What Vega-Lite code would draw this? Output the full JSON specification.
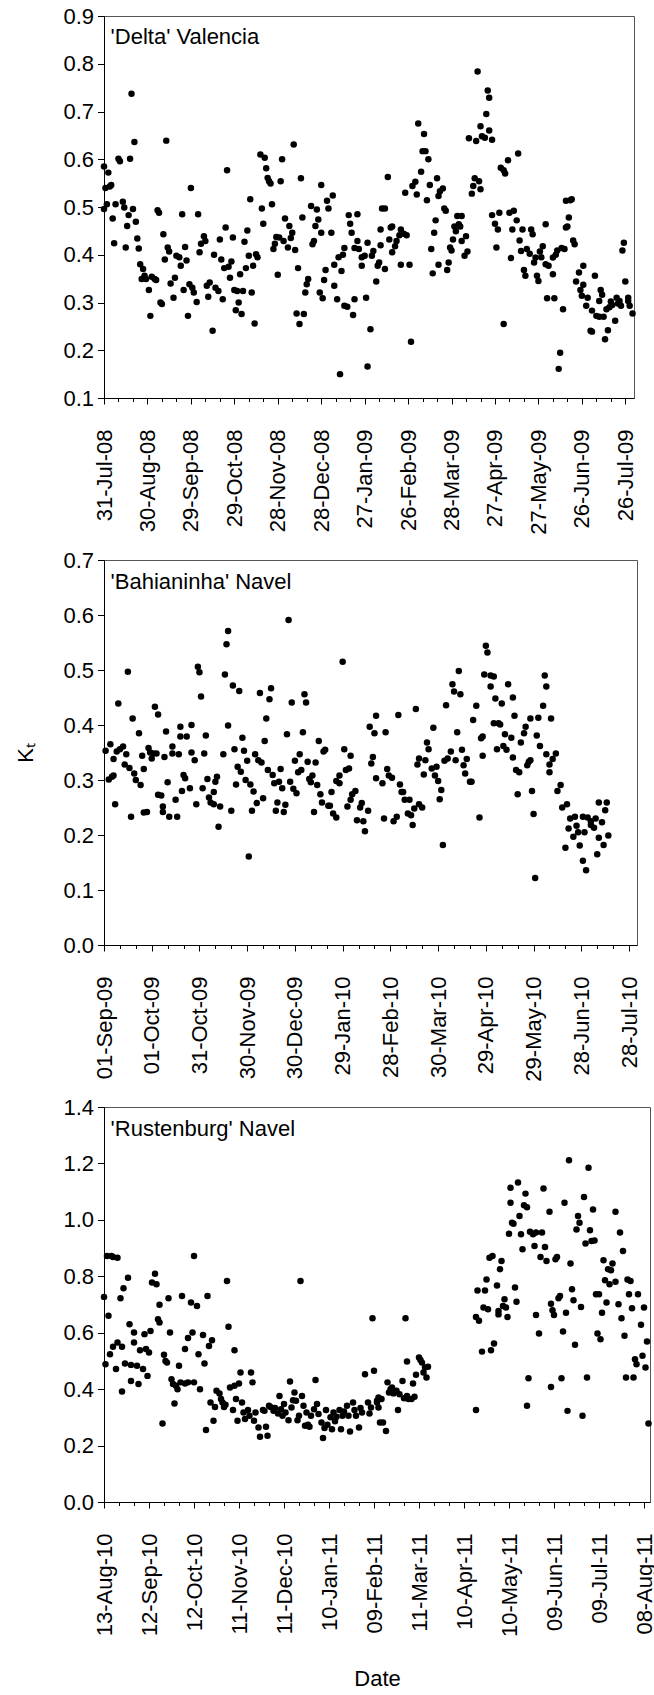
{
"$schema": "https://vega.github.io/schema/vega-lite/v6.json",
"padding": {"left": 14, "top": 4, "right": 4, "bottom": 0},
"spacing": 162,
"bounds": "flush",
"datasets": {
"delta": [
{"date":"2008-07-31","kt":0.585},{"date":"2008-07-31","kt":0.496},{"date":"2008-08-01","kt":0.54},{"date":"2008-08-02","kt":0.506},{"date":"2008-08-03","kt":0.572},{"date":"2008-08-04","kt":0.543},{"date":"2008-08-05","kt":0.546},{"date":"2008-08-06","kt":0.476},{"date":"2008-08-07","kt":0.424},{"date":"2008-08-08","kt":0.506},{"date":"2008-08-10","kt":0.601},{"date":"2008-08-11","kt":0.596},{"date":"2008-08-13","kt":0.511},{"date":"2008-08-14","kt":0.499},{"date":"2008-08-15","kt":0.415},{"date":"2008-08-16","kt":0.46},{"date":"2008-08-17","kt":0.483},{"date":"2008-08-18","kt":0.601},{"date":"2008-08-19","kt":0.737},{"date":"2008-08-20","kt":0.496},{"date":"2008-08-21","kt":0.636},{"date":"2008-08-22","kt":0.469},{"date":"2008-08-23","kt":0.434},{"date":"2008-08-24","kt":0.413},{"date":"2008-08-25","kt":0.38},{"date":"2008-08-26","kt":0.349},{"date":"2008-08-27","kt":0.37},{"date":"2008-08-28","kt":0.356},{"date":"2008-08-29","kt":0.349},{"date":"2008-08-31","kt":0.326},
{"date":"2008-09-01","kt":0.272},{"date":"2008-09-02","kt":0.354},{"date":"2008-09-04","kt":0.349},{"date":"2008-09-05","kt":0.347},{"date":"2008-09-06","kt":0.493},{"date":"2008-09-07","kt":0.488},{"date":"2008-09-08","kt":0.3},{"date":"2008-09-09","kt":0.297},{"date":"2008-09-10","kt":0.443},{"date":"2008-09-11","kt":0.39},{"date":"2008-09-12","kt":0.639},{"date":"2008-09-13","kt":0.415},{"date":"2008-09-14","kt":0.407},{"date":"2008-09-15","kt":0.34},{"date":"2008-09-17","kt":0.31},{"date":"2008-09-18","kt":0.352},{"date":"2008-09-19","kt":0.398},{"date":"2008-09-21","kt":0.395},{"date":"2008-09-22","kt":0.377},{"date":"2008-09-23","kt":0.485},{"date":"2008-09-24","kt":0.326},{"date":"2008-09-25","kt":0.416},{"date":"2008-09-26","kt":0.388},{"date":"2008-09-27","kt":0.272},{"date":"2008-09-28","kt":0.338},{"date":"2008-09-29","kt":0.54},{"date":"2008-09-30","kt":0.331},
{"date":"2008-10-01","kt":0.321},{"date":"2008-10-03","kt":0.301},{"date":"2008-10-04","kt":0.485},{"date":"2008-10-05","kt":0.405},{"date":"2008-10-06","kt":0.423},{"date":"2008-10-08","kt":0.439},{"date":"2008-10-09","kt":0.429},{"date":"2008-10-10","kt":0.335},{"date":"2008-10-11","kt":0.312},{"date":"2008-10-12","kt":0.342},{"date":"2008-10-14","kt":0.241},{"date":"2008-10-15","kt":0.4},{"date":"2008-10-16","kt":0.331},{"date":"2008-10-18","kt":0.324},{"date":"2008-10-19","kt":0.432},{"date":"2008-10-20","kt":0.39},{"date":"2008-10-21","kt":0.307},{"date":"2008-10-22","kt":0.372},{"date":"2008-10-23","kt":0.457},{"date":"2008-10-24","kt":0.577},{"date":"2008-10-25","kt":0.375},{"date":"2008-10-26","kt":0.352},{"date":"2008-10-27","kt":0.386},{"date":"2008-10-28","kt":0.436},{"date":"2008-10-29","kt":0.326},{"date":"2008-10-30","kt":0.284},{"date":"2008-10-31","kt":0.324},
{"date":"2008-11-01","kt":0.3},{"date":"2008-11-02","kt":0.359},{"date":"2008-11-03","kt":0.276},{"date":"2008-11-04","kt":0.324},{"date":"2008-11-05","kt":0.427},{"date":"2008-11-06","kt":0.372},{"date":"2008-11-07","kt":0.451},{"date":"2008-11-08","kt":0.398},{"date":"2008-11-09","kt":0.516},{"date":"2008-11-10","kt":0.321},{"date":"2008-11-11","kt":0.377},{"date":"2008-11-12","kt":0.256},{"date":"2008-11-13","kt":0.401},{"date":"2008-11-14","kt":0.395},{"date":"2008-11-16","kt":0.61},{"date":"2008-11-17","kt":0.497},{"date":"2008-11-18","kt":0.465},{"date":"2008-11-19","kt":0.603},{"date":"2008-11-20","kt":0.581},{"date":"2008-11-21","kt":0.561},{"date":"2008-11-22","kt":0.554},{"date":"2008-11-23","kt":0.549},{"date":"2008-11-24","kt":0.506},{"date":"2008-11-25","kt":0.412},{"date":"2008-11-26","kt":0.423},{"date":"2008-11-27","kt":0.437},{"date":"2008-11-28","kt":0.358},{"date":"2008-11-29","kt":0.436},{"date":"2008-11-30","kt":0.554},
{"date":"2008-12-01","kt":0.6},{"date":"2008-12-02","kt":0.429},{"date":"2008-12-03","kt":0.476},{"date":"2008-12-05","kt":0.415},{"date":"2008-12-06","kt":0.46},{"date":"2008-12-07","kt":0.435},{"date":"2008-12-08","kt":0.446},{"date":"2008-12-09","kt":0.631},{"date":"2008-12-10","kt":0.41},{"date":"2008-12-11","kt":0.277},{"date":"2008-12-12","kt":0.372},{"date":"2008-12-13","kt":0.255},{"date":"2008-12-14","kt":0.56},{"date":"2008-12-15","kt":0.478},{"date":"2008-12-16","kt":0.276},{"date":"2008-12-17","kt":0.321},{"date":"2008-12-18","kt":0.338},{"date":"2008-12-19","kt":0.349},{"date":"2008-12-21","kt":0.502},{"date":"2008-12-22","kt":0.422},{"date":"2008-12-23","kt":0.429},{"date":"2008-12-24","kt":0.46},{"date":"2008-12-25","kt":0.495},{"date":"2008-12-26","kt":0.474},{"date":"2008-12-27","kt":0.321},{"date":"2008-12-28","kt":0.546},{"date":"2008-12-28","kt":0.446},{"date":"2008-12-29","kt":0.309},{"date":"2008-12-30","kt":0.347},{"date":"2008-12-31","kt":0.368},
{"date":"2009-01-01","kt":0.513},{"date":"2009-01-02","kt":0.497},{"date":"2009-01-04","kt":0.446},{"date":"2009-01-05","kt":0.524},{"date":"2009-01-06","kt":0.335},{"date":"2009-01-06","kt":0.379},{"date":"2009-01-08","kt":0.307},{"date":"2009-01-09","kt":0.395},{"date":"2009-01-10","kt":0.15},{"date":"2009-01-11","kt":0.366},{"date":"2009-01-12","kt":0.4},{"date":"2009-01-13","kt":0.414},{"date":"2009-01-13","kt":0.293},{"date":"2009-01-15","kt":0.291},{"date":"2009-01-16","kt":0.483},{"date":"2009-01-17","kt":0.465},{"date":"2009-01-18","kt":0.446},{"date":"2009-01-19","kt":0.274},{"date":"2009-01-20","kt":0.307},{"date":"2009-01-20","kt":0.414},{"date":"2009-01-22","kt":0.485},{"date":"2009-01-22","kt":0.429},{"date":"2009-01-23","kt":0.412},{"date":"2009-01-25","kt":0.377},{"date":"2009-01-25","kt":0.395},{"date":"2009-01-27","kt":0.398},{"date":"2009-01-28","kt":0.31},{"date":"2009-01-29","kt":0.425},{"date":"2009-01-29","kt":0.166},{"date":"2009-01-31","kt":0.244},
{"date":"2009-02-01","kt":0.398},{"date":"2009-02-02","kt":0.408},{"date":"2009-02-04","kt":0.344},{"date":"2009-02-05","kt":0.377},{"date":"2009-02-06","kt":0.384},{"date":"2009-02-07","kt":0.42},{"date":"2009-02-07","kt":0.453},{"date":"2009-02-08","kt":0.497},{"date":"2009-02-10","kt":0.37},{"date":"2009-02-10","kt":0.497},{"date":"2009-02-12","kt":0.563},{"date":"2009-02-13","kt":0.432},{"date":"2009-02-14","kt":0.457},{"date":"2009-02-15","kt":0.405},{"date":"2009-02-15","kt":0.459},{"date":"2009-02-17","kt":0.418},{"date":"2009-02-18","kt":0.429},{"date":"2009-02-20","kt":0.441},{"date":"2009-02-21","kt":0.379},{"date":"2009-02-21","kt":0.453},{"date":"2009-02-23","kt":0.444},{"date":"2009-02-24","kt":0.53},{"date":"2009-02-25","kt":0.441},{"date":"2009-02-27","kt":0.379},{"date":"2009-02-28","kt":0.218},
{"date":"2009-03-01","kt":0.544},{"date":"2009-03-03","kt":0.553},{"date":"2009-03-04","kt":0.526},{"date":"2009-03-05","kt":0.675},{"date":"2009-03-07","kt":0.574},{"date":"2009-03-08","kt":0.617},{"date":"2009-03-09","kt":0.653},{"date":"2009-03-10","kt":0.617},{"date":"2009-03-11","kt":0.514},{"date":"2009-03-12","kt":0.6},{"date":"2009-03-13","kt":0.546},{"date":"2009-03-14","kt":0.412},{"date":"2009-03-15","kt":0.361},{"date":"2009-03-16","kt":0.446},{"date":"2009-03-17","kt":0.472},{"date":"2009-03-18","kt":0.56},{"date":"2009-03-19","kt":0.523},{"date":"2009-03-19","kt":0.379},{"date":"2009-03-20","kt":0.533},{"date":"2009-03-22","kt":0.539},{"date":"2009-03-23","kt":0.497},{"date":"2009-03-24","kt":0.492},{"date":"2009-03-25","kt":0.368},{"date":"2009-03-26","kt":0.384},{"date":"2009-03-27","kt":0.415},{"date":"2009-03-28","kt":0.409},{"date":"2009-03-29","kt":0.432},{"date":"2009-03-30","kt":0.459},{"date":"2009-03-31","kt":0.449},
{"date":"2009-04-01","kt":0.481},{"date":"2009-04-02","kt":0.464},{"date":"2009-04-03","kt":0.459},{"date":"2009-04-04","kt":0.481},{"date":"2009-04-04","kt":0.429},{"date":"2009-04-06","kt":0.398},{"date":"2009-04-07","kt":0.439},{"date":"2009-04-08","kt":0.407},{"date":"2009-04-09","kt":0.644},{"date":"2009-04-11","kt":0.528},{"date":"2009-04-12","kt":0.544},{"date":"2009-04-13","kt":0.56},{"date":"2009-04-14","kt":0.638},{"date":"2009-04-15","kt":0.784},{"date":"2009-04-16","kt":0.554},{"date":"2009-04-17","kt":0.537},{"date":"2009-04-17","kt":0.669},{"date":"2009-04-18","kt":0.648},{"date":"2009-04-20","kt":0.645},{"date":"2009-04-21","kt":0.695},{"date":"2009-04-22","kt":0.744},{"date":"2009-04-23","kt":0.729},{"date":"2009-04-23","kt":0.66},{"date":"2009-04-25","kt":0.641},{"date":"2009-04-25","kt":0.483},{"date":"2009-04-27","kt":0.465},{"date":"2009-04-28","kt":0.415},{"date":"2009-04-29","kt":0.453},{"date":"2009-04-30","kt":0.488},
{"date":"2009-05-01","kt":0.582},{"date":"2009-05-03","kt":0.577},{"date":"2009-05-03","kt":0.255},{"date":"2009-05-04","kt":0.57},{"date":"2009-05-06","kt":0.598},{"date":"2009-05-07","kt":0.488},{"date":"2009-05-08","kt":0.393},{"date":"2009-05-09","kt":0.453},{"date":"2009-05-10","kt":0.492},{"date":"2009-05-12","kt":0.472},{"date":"2009-05-13","kt":0.612},{"date":"2009-05-14","kt":0.43},{"date":"2009-05-15","kt":0.408},{"date":"2009-05-16","kt":0.453},{"date":"2009-05-17","kt":0.368},{"date":"2009-05-18","kt":0.356},{"date":"2009-05-19","kt":0.412},{"date":"2009-05-21","kt":0.402},{"date":"2009-05-22","kt":0.453},{"date":"2009-05-23","kt":0.443},{"date":"2009-05-24","kt":0.384},{"date":"2009-05-25","kt":0.394},{"date":"2009-05-26","kt":0.356},{"date":"2009-05-27","kt":0.345},{"date":"2009-05-28","kt":0.407},{"date":"2009-05-29","kt":0.395},{"date":"2009-05-30","kt":0.418},
{"date":"2009-06-01","kt":0.464},{"date":"2009-06-01","kt":0.38},{"date":"2009-06-02","kt":0.309},{"date":"2009-06-03","kt":0.377},{"date":"2009-06-06","kt":0.359},{"date":"2009-06-06","kt":0.394},{"date":"2009-06-07","kt":0.309},{"date":"2009-06-08","kt":0.4},{"date":"2009-06-09","kt":0.409},{"date":"2009-06-10","kt":0.161},{"date":"2009-06-11","kt":0.195},{"date":"2009-06-12","kt":0.414},{"date":"2009-06-13","kt":0.286},{"date":"2009-06-14","kt":0.412},{"date":"2009-06-15","kt":0.457},{"date":"2009-06-15","kt":0.513},{"date":"2009-06-16","kt":0.459},{"date":"2009-06-17","kt":0.478},{"date":"2009-06-18","kt":0.514},{"date":"2009-06-19","kt":0.516},{"date":"2009-06-20","kt":0.43},{"date":"2009-06-21","kt":0.422},{"date":"2009-06-22","kt":0.344},{"date":"2009-06-24","kt":0.363},{"date":"2009-06-25","kt":0.326},{"date":"2009-06-26","kt":0.314},{"date":"2009-06-27","kt":0.377},{"date":"2009-06-27","kt":0.337},{"date":"2009-06-29","kt":0.293},{"date":"2009-06-30","kt":0.31},
{"date":"2009-07-02","kt":0.241},{"date":"2009-07-03","kt":0.239},{"date":"2009-07-03","kt":0.283},{"date":"2009-07-05","kt":0.356},{"date":"2009-07-06","kt":0.272},{"date":"2009-07-08","kt":0.303},{"date":"2009-07-08","kt":0.27},{"date":"2009-07-09","kt":0.326},{"date":"2009-07-10","kt":0.316},{"date":"2009-07-11","kt":0.27},{"date":"2009-07-12","kt":0.223},{"date":"2009-07-13","kt":0.286},{"date":"2009-07-14","kt":0.242},{"date":"2009-07-15","kt":0.29},{"date":"2009-07-16","kt":0.302},{"date":"2009-07-17","kt":0.295},{"date":"2009-07-19","kt":0.262},{"date":"2009-07-20","kt":0.31},{"date":"2009-07-21","kt":0.298},{"date":"2009-07-22","kt":0.303},{"date":"2009-07-23","kt":0.293},{"date":"2009-07-24","kt":0.409},{"date":"2009-07-25","kt":0.425},{"date":"2009-07-26","kt":0.344},{"date":"2009-07-28","kt":0.31},{"date":"2009-07-28","kt":0.303},{"date":"2009-07-29","kt":0.293},{"date":"2009-07-31","kt":0.277}
],
"bahia": [
{"date":"2009-09-02","kt":0.353},{"date":"2009-09-04","kt":0.301},{"date":"2009-09-05","kt":0.365},{"date":"2009-09-06","kt":0.306},{"date":"2009-09-07","kt":0.308},{"date":"2009-09-07","kt":0.338},{"date":"2009-09-08","kt":0.256},{"date":"2009-09-09","kt":0.352},{"date":"2009-09-10","kt":0.439},{"date":"2009-09-11","kt":0.356},{"date":"2009-09-13","kt":0.361},{"date":"2009-09-14","kt":0.328},{"date":"2009-09-15","kt":0.347},{"date":"2009-09-16","kt":0.497},{"date":"2009-09-17","kt":0.322},{"date":"2009-09-18","kt":0.233},{"date":"2009-09-19","kt":0.412},{"date":"2009-09-20","kt":0.312},{"date":"2009-09-21","kt":0.3},{"date":"2009-09-23","kt":0.385},{"date":"2009-09-24","kt":0.291},{"date":"2009-09-25","kt":0.344},{"date":"2009-09-26","kt":0.32},{"date":"2009-09-26","kt":0.241},{"date":"2009-09-28","kt":0.242},{"date":"2009-09-29","kt":0.358},{"date":"2009-09-30","kt":0.35},
{"date":"2009-10-01","kt":0.339},{"date":"2009-10-02","kt":0.348},{"date":"2009-10-03","kt":0.433},{"date":"2009-10-04","kt":0.348},{"date":"2009-10-05","kt":0.419},{"date":"2009-10-05","kt":0.273},{"date":"2009-10-07","kt":0.272},{"date":"2009-10-08","kt":0.252},{"date":"2009-10-08","kt":0.242},{"date":"2009-10-09","kt":0.342},{"date":"2009-10-10","kt":0.388},{"date":"2009-10-11","kt":0.296},{"date":"2009-10-12","kt":0.233},{"date":"2009-10-14","kt":0.361},{"date":"2009-10-14","kt":0.348},{"date":"2009-10-16","kt":0.264},{"date":"2009-10-17","kt":0.233},{"date":"2009-10-18","kt":0.347},{"date":"2009-10-19","kt":0.397},{"date":"2009-10-19","kt":0.379},{"date":"2009-10-20","kt":0.28},{"date":"2009-10-21","kt":0.309},{"date":"2009-10-22","kt":0.303},{"date":"2009-10-23","kt":0.379},{"date":"2009-10-25","kt":0.285},{"date":"2009-10-26","kt":0.4},{"date":"2009-10-26","kt":0.35},{"date":"2009-10-28","kt":0.336},{"date":"2009-10-29","kt":0.256},{"date":"2009-10-30","kt":0.506},{"date":"2009-10-31","kt":0.496},
{"date":"2009-11-01","kt":0.452},{"date":"2009-11-02","kt":0.285},{"date":"2009-11-03","kt":0.348},{"date":"2009-11-04","kt":0.381},{"date":"2009-11-05","kt":0.302},{"date":"2009-11-06","kt":0.268},{"date":"2009-11-07","kt":0.259},{"date":"2009-11-09","kt":0.256},{"date":"2009-11-09","kt":0.278},{"date":"2009-11-10","kt":0.297},{"date":"2009-11-11","kt":0.306},{"date":"2009-11-12","kt":0.215},{"date":"2009-11-13","kt":0.252},{"date":"2009-11-15","kt":0.347},{"date":"2009-11-16","kt":0.492},{"date":"2009-11-17","kt":0.547},{"date":"2009-11-18","kt":0.571},{"date":"2009-11-18","kt":0.399},{"date":"2009-11-20","kt":0.244},{"date":"2009-11-21","kt":0.472},{"date":"2009-11-22","kt":0.356},{"date":"2009-11-23","kt":0.292},{"date":"2009-11-24","kt":0.324},{"date":"2009-11-25","kt":0.462},{"date":"2009-11-26","kt":0.315},{"date":"2009-11-27","kt":0.377},{"date":"2009-11-28","kt":0.353},{"date":"2009-11-29","kt":0.3},{"date":"2009-11-30","kt":0.335},
{"date":"2009-12-01","kt":0.161},{"date":"2009-12-02","kt":0.292},{"date":"2009-12-03","kt":0.244},{"date":"2009-12-04","kt":0.279},{"date":"2009-12-05","kt":0.347},{"date":"2009-12-06","kt":0.258},{"date":"2009-12-07","kt":0.336},{"date":"2009-12-08","kt":0.458},{"date":"2009-12-09","kt":0.332},{"date":"2009-12-10","kt":0.267},{"date":"2009-12-11","kt":0.371},{"date":"2009-12-12","kt":0.412},{"date":"2009-12-13","kt":0.318},{"date":"2009-12-14","kt":0.447},{"date":"2009-12-15","kt":0.467},{"date":"2009-12-16","kt":0.309},{"date":"2009-12-17","kt":0.294},{"date":"2009-12-18","kt":0.244},{"date":"2009-12-19","kt":0.259},{"date":"2009-12-20","kt":0.297},{"date":"2009-12-21","kt":0.32},{"date":"2009-12-22","kt":0.285},{"date":"2009-12-23","kt":0.242},{"date":"2009-12-24","kt":0.255},{"date":"2009-12-25","kt":0.383},{"date":"2009-12-26","kt":0.591},{"date":"2009-12-27","kt":0.297},{"date":"2009-12-28","kt":0.441},{"date":"2009-12-29","kt":0.284},{"date":"2009-12-30","kt":0.335},{"date":"2009-12-31","kt":0.276},
{"date":"2010-01-01","kt":0.314},{"date":"2010-01-02","kt":0.347},{"date":"2010-01-03","kt":0.318},{"date":"2010-01-04","kt":0.387},{"date":"2010-01-05","kt":0.456},{"date":"2010-01-06","kt":0.441},{"date":"2010-01-07","kt":0.333},{"date":"2010-01-08","kt":0.302},{"date":"2010-01-09","kt":0.296},{"date":"2010-01-10","kt":0.308},{"date":"2010-01-11","kt":0.242},{"date":"2010-01-12","kt":0.332},{"date":"2010-01-13","kt":0.291},{"date":"2010-01-14","kt":0.371},{"date":"2010-01-15","kt":0.274},{"date":"2010-01-16","kt":0.259},{"date":"2010-01-17","kt":0.352},{"date":"2010-01-18","kt":0.355},{"date":"2010-01-20","kt":0.253},{"date":"2010-01-21","kt":0.253},{"date":"2010-01-22","kt":0.278},{"date":"2010-01-23","kt":0.239},{"date":"2010-01-25","kt":0.298},{"date":"2010-01-25","kt":0.232},{"date":"2010-01-27","kt":0.294},{"date":"2010-01-27","kt":0.308},{"date":"2010-01-29","kt":0.515},{"date":"2010-01-30","kt":0.356},{"date":"2010-01-31","kt":0.318},
{"date":"2010-02-01","kt":0.252},{"date":"2010-02-02","kt":0.321},{"date":"2010-02-03","kt":0.344},{"date":"2010-02-03","kt":0.264},{"date":"2010-02-04","kt":0.274},{"date":"2010-02-06","kt":0.28},{"date":"2010-02-07","kt":0.227},{"date":"2010-02-09","kt":0.25},{"date":"2010-02-10","kt":0.258},{"date":"2010-02-11","kt":0.225},{"date":"2010-02-12","kt":0.207},{"date":"2010-02-14","kt":0.244},{"date":"2010-02-15","kt":0.397},{"date":"2010-02-16","kt":0.33},{"date":"2010-02-17","kt":0.342},{"date":"2010-02-18","kt":0.385},{"date":"2010-02-19","kt":0.417},{"date":"2010-02-19","kt":0.303},{"date":"2010-02-23","kt":0.294},{"date":"2010-02-24","kt":0.23},{"date":"2010-02-25","kt":0.387},{"date":"2010-02-26","kt":0.32},{"date":"2010-02-27","kt":0.308},
{"date":"2010-03-01","kt":0.304},{"date":"2010-03-02","kt":0.225},{"date":"2010-03-04","kt":0.233},{"date":"2010-03-05","kt":0.418},{"date":"2010-03-06","kt":0.292},{"date":"2010-03-07","kt":0.278},{"date":"2010-03-08","kt":0.278},{"date":"2010-03-09","kt":0.264},{"date":"2010-03-11","kt":0.239},{"date":"2010-03-12","kt":0.264},{"date":"2010-03-13","kt":0.236},{"date":"2010-03-14","kt":0.218},{"date":"2010-03-15","kt":0.248},{"date":"2010-03-16","kt":0.429},{"date":"2010-03-17","kt":0.328},{"date":"2010-03-18","kt":0.256},{"date":"2010-03-18","kt":0.339},{"date":"2010-03-20","kt":0.25},{"date":"2010-03-21","kt":0.31},{"date":"2010-03-22","kt":0.336},{"date":"2010-03-23","kt":0.368},{"date":"2010-03-24","kt":0.356},{"date":"2010-03-26","kt":0.321},{"date":"2010-03-27","kt":0.395},{"date":"2010-03-28","kt":0.308},{"date":"2010-03-29","kt":0.324},{"date":"2010-03-30","kt":0.298},{"date":"2010-03-31","kt":0.265},
{"date":"2010-04-01","kt":0.282},{"date":"2010-04-02","kt":0.182},{"date":"2010-04-03","kt":0.335},{"date":"2010-04-04","kt":0.436},{"date":"2010-04-05","kt":0.339},{"date":"2010-04-07","kt":0.352},{"date":"2010-04-08","kt":0.474},{"date":"2010-04-09","kt":0.461},{"date":"2010-04-10","kt":0.336},{"date":"2010-04-11","kt":0.387},{"date":"2010-04-12","kt":0.498},{"date":"2010-04-13","kt":0.456},{"date":"2010-04-14","kt":0.355},{"date":"2010-04-15","kt":0.327},{"date":"2010-04-16","kt":0.312},{"date":"2010-04-17","kt":0.338},{"date":"2010-04-19","kt":0.297},{"date":"2010-04-20","kt":0.297},{"date":"2010-04-21","kt":0.409},{"date":"2010-04-23","kt":0.435},{"date":"2010-04-25","kt":0.232},{"date":"2010-04-26","kt":0.376},{"date":"2010-04-27","kt":0.379},{"date":"2010-04-27","kt":0.344},{"date":"2010-04-28","kt":0.492},{"date":"2010-04-29","kt":0.544},{"date":"2010-04-30","kt":0.532},
{"date":"2010-05-02","kt":0.47},{"date":"2010-05-02","kt":0.49},{"date":"2010-05-04","kt":0.488},{"date":"2010-05-04","kt":0.403},{"date":"2010-05-05","kt":0.448},{"date":"2010-05-06","kt":0.356},{"date":"2010-05-07","kt":0.403},{"date":"2010-05-08","kt":0.401},{"date":"2010-05-09","kt":0.439},{"date":"2010-05-10","kt":0.362},{"date":"2010-05-11","kt":0.383},{"date":"2010-05-12","kt":0.355},{"date":"2010-05-13","kt":0.474},{"date":"2010-05-15","kt":0.377},{"date":"2010-05-16","kt":0.341},{"date":"2010-05-16","kt":0.45},{"date":"2010-05-17","kt":0.417},{"date":"2010-05-18","kt":0.318},{"date":"2010-05-19","kt":0.274},{"date":"2010-05-20","kt":0.314},{"date":"2010-05-21","kt":0.368},{"date":"2010-05-23","kt":0.385},{"date":"2010-05-24","kt":0.397},{"date":"2010-05-25","kt":0.327},{"date":"2010-05-26","kt":0.333},{"date":"2010-05-27","kt":0.336},{"date":"2010-05-27","kt":0.412},{"date":"2010-05-28","kt":0.28},{"date":"2010-05-29","kt":0.238},{"date":"2010-05-30","kt":0.122},{"date":"2010-05-31","kt":0.381},
{"date":"2010-06-01","kt":0.413},{"date":"2010-06-02","kt":0.362},{"date":"2010-06-04","kt":0.435},{"date":"2010-06-05","kt":0.49},{"date":"2010-06-06","kt":0.47},{"date":"2010-06-06","kt":0.347},{"date":"2010-06-08","kt":0.314},{"date":"2010-06-08","kt":0.328},{"date":"2010-06-09","kt":0.412},{"date":"2010-06-10","kt":0.338},{"date":"2010-06-12","kt":0.348},{"date":"2010-06-13","kt":0.28},{"date":"2010-06-15","kt":0.291},{"date":"2010-06-16","kt":0.25},{"date":"2010-06-18","kt":0.177},{"date":"2010-06-19","kt":0.256},{"date":"2010-06-20","kt":0.212},{"date":"2010-06-21","kt":0.23},{"date":"2010-06-23","kt":0.197},{"date":"2010-06-24","kt":0.233},{"date":"2010-06-25","kt":0.217},{"date":"2010-06-26","kt":0.205},{"date":"2010-06-27","kt":0.181},{"date":"2010-06-29","kt":0.153},{"date":"2010-06-29","kt":0.233},{"date":"2010-06-30","kt":0.205},
{"date":"2010-07-01","kt":0.136},{"date":"2010-07-02","kt":0.232},{"date":"2010-07-04","kt":0.218},{"date":"2010-07-04","kt":0.225},{"date":"2010-07-06","kt":0.213},{"date":"2010-07-07","kt":0.23},{"date":"2010-07-08","kt":0.165},{"date":"2010-07-09","kt":0.195},{"date":"2010-07-09","kt":0.259},{"date":"2010-07-11","kt":0.223},{"date":"2010-07-12","kt":0.182},{"date":"2010-07-13","kt":0.245},{"date":"2010-07-14","kt":0.259},{"date":"2010-07-15","kt":0.199}
],
"rust": [
{"date":"2010-08-13","kt":0.727},{"date":"2010-08-14","kt":0.488},{"date":"2010-08-15","kt":0.872},{"date":"2010-08-16","kt":0.66},{"date":"2010-08-17","kt":0.524},{"date":"2010-08-18","kt":0.872},{"date":"2010-08-19","kt":0.868},{"date":"2010-08-19","kt":0.55},{"date":"2010-08-21","kt":0.471},{"date":"2010-08-22","kt":0.866},{"date":"2010-08-22","kt":0.565},{"date":"2010-08-24","kt":0.722},{"date":"2010-08-25","kt":0.55},{"date":"2010-08-25","kt":0.392},{"date":"2010-08-26","kt":0.758},{"date":"2010-08-27","kt":0.491},{"date":"2010-08-29","kt":0.795},{"date":"2010-08-30","kt":0.63},{"date":"2010-08-31","kt":0.429},{"date":"2010-08-31","kt":0.486},
{"date":"2010-09-02","kt":0.565},{"date":"2010-09-02","kt":0.601},{"date":"2010-09-04","kt":0.483},{"date":"2010-09-05","kt":0.418},{"date":"2010-09-06","kt":0.538},{"date":"2010-09-08","kt":0.471},{"date":"2010-09-09","kt":0.595},{"date":"2010-09-10","kt":0.542},{"date":"2010-09-11","kt":0.447},{"date":"2010-09-12","kt":0.53},{"date":"2010-09-13","kt":0.606},{"date":"2010-09-14","kt":0.778},{"date":"2010-09-16","kt":0.809},{"date":"2010-09-17","kt":0.772},{"date":"2010-09-18","kt":0.648},{"date":"2010-09-19","kt":0.636},{"date":"2010-09-19","kt":0.699},{"date":"2010-09-21","kt":0.278},{"date":"2010-09-22","kt":0.522},{"date":"2010-09-23","kt":0.5},{"date":"2010-09-24","kt":0.494},{"date":"2010-09-25","kt":0.722},{"date":"2010-09-26","kt":0.601},{"date":"2010-09-27","kt":0.435},{"date":"2010-09-28","kt":0.418},{"date":"2010-09-29","kt":0.349},{"date":"2010-09-30","kt":0.412},
{"date":"2010-10-01","kt":0.4},{"date":"2010-10-02","kt":0.483},{"date":"2010-10-03","kt":0.424},{"date":"2010-10-04","kt":0.73},{"date":"2010-10-06","kt":0.42},{"date":"2010-10-06","kt":0.542},{"date":"2010-10-08","kt":0.581},{"date":"2010-10-08","kt":0.424},{"date":"2010-10-10","kt":0.707},{"date":"2010-10-11","kt":0.601},{"date":"2010-10-12","kt":0.872},{"date":"2010-10-12","kt":0.424},{"date":"2010-10-14","kt":0.695},{"date":"2010-10-15","kt":0.524},{"date":"2010-10-16","kt":0.4},{"date":"2010-10-18","kt":0.592},{"date":"2010-10-19","kt":0.491},{"date":"2010-10-20","kt":0.255},{"date":"2010-10-21","kt":0.73},{"date":"2010-10-22","kt":0.553},{"date":"2010-10-23","kt":0.353},{"date":"2010-10-24","kt":0.573},{"date":"2010-10-25","kt":0.288},{"date":"2010-10-26","kt":0.337},{"date":"2010-10-27","kt":0.394},{"date":"2010-10-29","kt":0.385},{"date":"2010-10-30","kt":0.365},{"date":"2010-10-31","kt":0.353},
{"date":"2010-11-01","kt":0.337},{"date":"2010-11-02","kt":0.345},{"date":"2010-11-03","kt":0.783},{"date":"2010-11-04","kt":0.621},{"date":"2010-11-05","kt":0.406},{"date":"2010-11-07","kt":0.326},{"date":"2010-11-08","kt":0.412},{"date":"2010-11-08","kt":0.538},{"date":"2010-11-09","kt":0.365},{"date":"2010-11-10","kt":0.288},{"date":"2010-11-11","kt":0.42},{"date":"2010-11-12","kt":0.459},{"date":"2010-11-13","kt":0.353},{"date":"2010-11-14","kt":0.317},{"date":"2010-11-15","kt":0.294},{"date":"2010-11-17","kt":0.326},{"date":"2010-11-18","kt":0.306},{"date":"2010-11-19","kt":0.459},{"date":"2010-11-20","kt":0.424},{"date":"2010-11-21","kt":0.288},{"date":"2010-11-22","kt":0.317},{"date":"2010-11-24","kt":0.264},{"date":"2010-11-25","kt":0.231},{"date":"2010-11-27","kt":0.326},{"date":"2010-11-28","kt":0.323},{"date":"2010-11-29","kt":0.267},{"date":"2010-11-30","kt":0.235},
{"date":"2010-12-01","kt":0.341},{"date":"2010-12-02","kt":0.337},{"date":"2010-12-04","kt":0.323},{"date":"2010-12-05","kt":0.333},{"date":"2010-12-07","kt":0.314},{"date":"2010-12-08","kt":0.376},{"date":"2010-12-09","kt":0.329},{"date":"2010-12-10","kt":0.306},{"date":"2010-12-11","kt":0.347},{"date":"2010-12-12","kt":0.317},{"date":"2010-12-14","kt":0.29},{"date":"2010-12-15","kt":0.427},{"date":"2010-12-16","kt":0.335},{"date":"2010-12-17","kt":0.361},{"date":"2010-12-18","kt":0.388},{"date":"2010-12-19","kt":0.359},{"date":"2010-12-20","kt":0.29},{"date":"2010-12-21","kt":0.306},{"date":"2010-12-22","kt":0.783},{"date":"2010-12-23","kt":0.376},{"date":"2010-12-24","kt":0.341},{"date":"2010-12-25","kt":0.27},{"date":"2010-12-26","kt":0.317},{"date":"2010-12-27","kt":0.274},{"date":"2010-12-28","kt":0.267},{"date":"2010-12-29","kt":0.306},{"date":"2010-12-31","kt":0.329},
{"date":"2011-01-01","kt":0.432},{"date":"2011-01-02","kt":0.347},{"date":"2011-01-03","kt":0.312},{"date":"2011-01-05","kt":0.282},{"date":"2011-01-06","kt":0.227},{"date":"2011-01-07","kt":0.262},{"date":"2011-01-08","kt":0.326},{"date":"2011-01-09","kt":0.274},{"date":"2011-01-11","kt":0.3},{"date":"2011-01-12","kt":0.258},{"date":"2011-01-13","kt":0.317},{"date":"2011-01-14","kt":0.286},{"date":"2011-01-15","kt":0.302},{"date":"2011-01-17","kt":0.326},{"date":"2011-01-18","kt":0.258},{"date":"2011-01-19","kt":0.306},{"date":"2011-01-20","kt":0.321},{"date":"2011-01-22","kt":0.341},{"date":"2011-01-23","kt":0.306},{"date":"2011-01-24","kt":0.25},{"date":"2011-01-26","kt":0.353},{"date":"2011-01-27","kt":0.326},{"date":"2011-01-28","kt":0.306},{"date":"2011-01-30","kt":0.264},{"date":"2011-01-31","kt":0.333},
{"date":"2011-02-01","kt":0.317},{"date":"2011-02-03","kt":0.453},{"date":"2011-02-05","kt":0.353},{"date":"2011-02-06","kt":0.314},{"date":"2011-02-07","kt":0.335},{"date":"2011-02-08","kt":0.651},{"date":"2011-02-09","kt":0.465},{"date":"2011-02-11","kt":0.353},{"date":"2011-02-11","kt":0.359},{"date":"2011-02-12","kt":0.37},{"date":"2011-02-12","kt":0.335},{"date":"2011-02-13","kt":0.282},{"date":"2011-02-14","kt":0.365},{"date":"2011-02-15","kt":0.282},{"date":"2011-02-17","kt":0.252},{"date":"2011-02-18","kt":0.424},{"date":"2011-02-19","kt":0.388},{"date":"2011-02-20","kt":0.4},{"date":"2011-02-21","kt":0.406},{"date":"2011-02-22","kt":0.385},{"date":"2011-02-24","kt":0.394},{"date":"2011-02-25","kt":0.326},{"date":"2011-02-26","kt":0.382},{"date":"2011-02-28","kt":0.429},
{"date":"2011-03-01","kt":0.368},{"date":"2011-03-02","kt":0.651},{"date":"2011-03-03","kt":0.498},{"date":"2011-03-03","kt":0.376},{"date":"2011-03-04","kt":0.365},{"date":"2011-03-06","kt":0.365},{"date":"2011-03-07","kt":0.42},{"date":"2011-03-08","kt":0.373},{"date":"2011-03-09","kt":0.451},{"date":"2011-03-11","kt":0.512},{"date":"2011-03-12","kt":0.503},{"date":"2011-03-13","kt":0.494},{"date":"2011-03-14","kt":0.459},{"date":"2011-03-15","kt":0.477},{"date":"2011-03-16","kt":0.441},{"date":"2011-03-17","kt":0.479},
{"date":"2011-04-18","kt":0.326},{"date":"2011-04-18","kt":0.656},{"date":"2011-04-19","kt":0.75},{"date":"2011-04-20","kt":0.642},{"date":"2011-04-22","kt":0.533},{"date":"2011-04-23","kt":0.689},{"date":"2011-04-24","kt":0.75},{"date":"2011-04-25","kt":0.789},{"date":"2011-04-26","kt":0.683},{"date":"2011-04-27","kt":0.866},{"date":"2011-04-28","kt":0.538},{"date":"2011-04-29","kt":0.872},{"date":"2011-04-30","kt":0.562},
{"date":"2011-05-02","kt":0.767},{"date":"2011-05-03","kt":0.677},{"date":"2011-05-03","kt":0.665},{"date":"2011-05-04","kt":0.825},{"date":"2011-05-05","kt":0.854},{"date":"2011-05-06","kt":0.695},{"date":"2011-05-07","kt":0.719},{"date":"2011-05-08","kt":0.689},{"date":"2011-05-09","kt":0.656},{"date":"2011-05-10","kt":0.951},{"date":"2011-05-11","kt":1.061},{"date":"2011-05-11","kt":1.114},{"date":"2011-05-12","kt":0.99},{"date":"2011-05-13","kt":0.986},{"date":"2011-05-14","kt":0.76},{"date":"2011-05-15","kt":0.71},{"date":"2011-05-16","kt":1.132},{"date":"2011-05-17","kt":1.014},{"date":"2011-05-18","kt":0.949},{"date":"2011-05-19","kt":0.896},{"date":"2011-05-20","kt":1.052},{"date":"2011-05-21","kt":1.093},{"date":"2011-05-22","kt":1.045},{"date":"2011-05-22","kt":0.341},{"date":"2011-05-23","kt":0.439},{"date":"2011-05-24","kt":0.958},{"date":"2011-05-26","kt":0.949},{"date":"2011-05-27","kt":0.907},{"date":"2011-05-28","kt":0.663},{"date":"2011-05-28","kt":0.955},{"date":"2011-05-30","kt":0.597},{"date":"2011-05-31","kt":0.868},
{"date":"2011-06-01","kt":0.955},{"date":"2011-06-02","kt":1.111},{"date":"2011-06-03","kt":0.904},{"date":"2011-06-04","kt":0.854},{"date":"2011-06-06","kt":1.029},{"date":"2011-06-07","kt":0.703},{"date":"2011-06-07","kt":0.408},{"date":"2011-06-08","kt":0.68},{"date":"2011-06-09","kt":0.663},{"date":"2011-06-10","kt":0.86},{"date":"2011-06-11","kt":0.868},{"date":"2011-06-12","kt":0.722},{"date":"2011-06-13","kt":0.73},{"date":"2011-06-14","kt":0.439},{"date":"2011-06-15","kt":0.604},{"date":"2011-06-16","kt":1.061},{"date":"2011-06-17","kt":0.671},{"date":"2011-06-18","kt":0.323},{"date":"2011-06-19","kt":1.211},{"date":"2011-06-20","kt":0.845},{"date":"2011-06-21","kt":0.754},{"date":"2011-06-22","kt":0.715},{"date":"2011-06-23","kt":0.557},{"date":"2011-06-24","kt":0.966},{"date":"2011-06-25","kt":1.014},{"date":"2011-06-26","kt":0.99},{"date":"2011-06-27","kt":0.691},{"date":"2011-06-28","kt":0.306},{"date":"2011-06-29","kt":1.081},{"date":"2011-06-30","kt":0.916},
{"date":"2011-07-01","kt":0.441},{"date":"2011-07-02","kt":1.185},{"date":"2011-07-03","kt":0.963},{"date":"2011-07-04","kt":0.925},{"date":"2011-07-05","kt":1.037},{"date":"2011-07-06","kt":0.927},{"date":"2011-07-07","kt":0.736},{"date":"2011-07-08","kt":0.597},{"date":"2011-07-09","kt":0.736},{"date":"2011-07-10","kt":0.577},{"date":"2011-07-11","kt":0.671},{"date":"2011-07-12","kt":0.857},{"date":"2011-07-13","kt":0.786},{"date":"2011-07-14","kt":0.707},{"date":"2011-07-15","kt":0.825},{"date":"2011-07-16","kt":0.772},{"date":"2011-07-17","kt":0.821},{"date":"2011-07-18","kt":0.845},{"date":"2011-07-20","kt":1.029},{"date":"2011-07-20","kt":0.781},{"date":"2011-07-22","kt":0.701},{"date":"2011-07-23","kt":0.955},{"date":"2011-07-24","kt":0.651},{"date":"2011-07-25","kt":0.89},{"date":"2011-07-26","kt":0.589},{"date":"2011-07-27","kt":0.441},{"date":"2011-07-28","kt":0.789},{"date":"2011-07-29","kt":0.736},{"date":"2011-07-30","kt":0.783},{"date":"2011-07-31","kt":0.687},
{"date":"2011-08-01","kt":0.441},{"date":"2011-08-02","kt":0.506},{"date":"2011-08-03","kt":0.488},{"date":"2011-08-04","kt":0.736},{"date":"2011-08-06","kt":0.628},{"date":"2011-08-07","kt":0.518},{"date":"2011-08-08","kt":0.689},{"date":"2011-08-09","kt":0.477},{"date":"2011-08-10","kt":0.569},{"date":"2011-08-11","kt":0.278}
]
},
"vconcat": [
{
"width": 530, "height": 382,
"title": {"text": "'Delta' Valencia", "anchor": "start", "frame": "group", "orient": "top", "offset": -61, "baseline": "alphabetic", "dx": 6.6},
"data": {"name": "delta"},
"mark": {"type": "circle", "size": 42, "color": "#000", "opacity": 1},
"encoding": {
  "x": {"field": "date", "type": "temporal",
   "scale": {"type": "utc", "domain": [{"year": 2008, "month": "jul", "date": 31, "utc": true}, {"year": 2009, "month": "aug", "date": 1, "utc": true}]},
   "axis": {"title": null, "labelOverlap": false, "labelPadding": 25, "labelAngle": -90,
    "values": {"expr": "sequence(1217462400000, 1217462400000 + 361*864e5, 864e6)"},
    "labelExpr": "round((datum.value - 1217462400000)/864e5) % 30 === 0 ? utcFormat(datum.value, '%d-%b-%y') : ''",
    "tickSize": {"condition": {"test": "round((datum.value - 1217462400000)/864e5) % 30 === 0", "value": 6}, "value": 3.5}}},
  "y": {"field": "kt", "type": "quantitative",
   "scale": {"domain": [0.1, 0.9], "nice": false, "zero": false},
   "axis": {"title": null, "values": [0.1, 0.2, 0.3, 0.4, 0.5, 0.6, 0.7, 0.8, 0.9], "format": ".1f"}}
}
},
{
"width": 533, "height": 385,
"title": {"text": "'Bahianinha' Navel", "anchor": "start", "frame": "group", "orient": "top", "offset": -61.5, "baseline": "alphabetic", "dx": 6.6},
"data": {"name": "bahia"},
"mark": {"type": "circle", "size": 42, "color": "#000", "opacity": 1},
"encoding": {
  "x": {"field": "date", "type": "temporal",
   "scale": {"type": "utc", "domain": [{"year": 2009, "month": "sep", "date": 1, "utc": true}, {"year": 2010, "month": "aug", "date": 2, "utc": true}]},
   "axis": {"title": null, "labelOverlap": false, "labelPadding": 25, "labelAngle": -90,
    "values": {"expr": "sequence(1251763200000, 1251763200000 + 331*864e5, 864e6)"},
    "labelExpr": "round((datum.value - 1251763200000)/864e5) % 30 === 0 ? utcFormat(datum.value, '%d-%b-%y') : ''",
    "tickSize": {"condition": {"test": "round((datum.value - 1251763200000)/864e5) % 30 === 0", "value": 6}, "value": 3.5}}},
  "y": {"field": "kt", "type": "quantitative",
   "scale": {"domain": [0, 0.7], "nice": false, "zero": false},
   "axis": {"title": "Kₜ", "titlePadding": 25, "values": [0, 0.1, 0.2, 0.3, 0.4, 0.5, 0.6, 0.7], "format": ".1f"}}
}
},
{
"width": 546, "height": 395,
"title": {"text": "'Rustenburg' Navel", "anchor": "start", "frame": "group", "orient": "top", "offset": -62, "baseline": "alphabetic", "dx": 6.6},
"data": {"name": "rust"},
"mark": {"type": "circle", "size": 42, "color": "#000", "opacity": 1},
"encoding": {
  "x": {"field": "date", "type": "temporal",
   "scale": {"type": "utc", "domain": [{"year": 2010, "month": "aug", "date": 13, "utc": true}, {"year": 2011, "month": "aug", "date": 12, "utc": true}]},
   "axis": {"title": "Date", "titlePadding": 32, "labelOverlap": false, "labelPadding": 25, "labelAngle": -90,
    "values": {"expr": "sequence(1281657600000, 1281657600000 + 361*864e5, 864e6)"},
    "labelExpr": "round((datum.value - 1281657600000)/864e5) % 30 === 0 ? utcFormat(datum.value, '%d-%b-%y') : ''",
    "tickSize": {"condition": {"test": "round((datum.value - 1281657600000)/864e5) % 30 === 0", "value": 6}, "value": 3.5}}},
  "y": {"field": "kt", "type": "quantitative",
   "scale": {"domain": [0, 1.4], "nice": false, "zero": false},
   "axis": {"title": null, "values": [0, 0.2, 0.4, 0.6, 0.8, 1.0, 1.2, 1.4], "format": ".1f"}}
}
}
],
"config": {
 "font": "Liberation Sans",
 "view": {"stroke": "#555", "strokeWidth": 1},
 "title": {"font": "Liberation Sans", "fontSize": 22, "fontWeight": "normal", "color": "#000"},
 "axis": {"labelFont": "Liberation Sans", "labelFontSize": 22, "labelColor": "#000", "titleFont": "Liberation Sans", "titleFontSize": 22, "titleFontWeight": "normal", "titleColor": "#000", "domainColor": "#000", "tickColor": "#000", "grid": false, "labelFlush": false, "labelOverlap": false, "labelBound": false},
 "axisY": {"tickSize": 6.5, "labelPadding": 4}
}
}
